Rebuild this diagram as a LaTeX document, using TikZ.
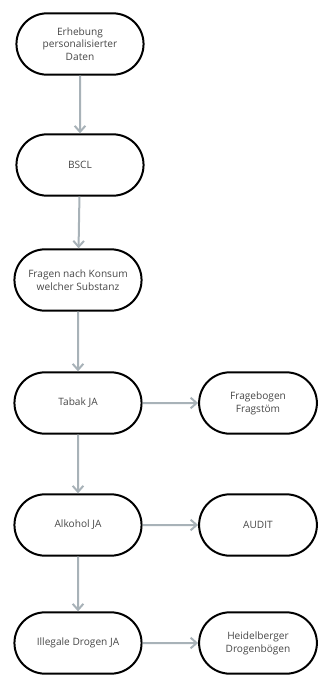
\documentclass[tikz,border=0pt]{standalone}
\usepackage{fontspec}
\setmainfont{Open Sans}
\usetikzlibrary{shapes.misc,arrows.meta}
\definecolor{pfeilgrau}{RGB}{168,178,184}
\definecolor{textgrau}{RGB}{70,70,70}

\begin{document}
\begin{tikzpicture}[x=0.75pt,y=-0.75pt]
\useasboundingbox (0,0) rectangle (321,675);

\tikzset{
    kapsel/.style={
        draw=black, line width=1.5pt, rounded rectangle,
        minimum width=102pt, minimum height=46pt,
        align=center, text=textgrau, font=\fontsize{7.6}{9.6}\selectfont
    },
    kapselR/.style={kapsel, minimum width=95pt},
    pfeil/.style={
        draw=pfeilgrau, line width=1.5pt,
        -{Straight Barb[length=4.5pt,width=8pt,line width=1.5pt]}
    }
}

\node[kapsel] (erhebung) at (80,44) {Erhebung\\personalisierter\\Daten};
\node[kapsel] (bscl) at (80,165) {BSCL};
\node[kapsel] (fragen) at (78,280) {Fragen nach Konsum\\welcher Substanz};
\node[kapsel] (tabak) at (78,403) {Tabak JA};
\node[kapsel] (alkohol) at (78,525) {Alkohol JA};
\node[kapsel] (drogen) at (78,643) {Illegale Drogen JA};

\node[kapselR] (fragstoem) at (258,403) {Fragebogen\\Fragstöm};
\node[kapselR] (audit) at (258,525) {AUDIT};
\node[kapselR] (heidelberg) at (258,643) {Heidelberger\\Drogenbögen};

\draw[pfeil] (erhebung) -- (bscl);
\draw[pfeil] (bscl) -- (fragen);
\draw[pfeil] (fragen) -- (tabak);
\draw[pfeil] (tabak) -- (alkohol);
\draw[pfeil] (alkohol) -- (drogen);

\draw[pfeil] (tabak) -- (fragstoem);
\draw[pfeil] (alkohol) -- (audit);
\draw[pfeil] (drogen) -- (heidelberg);

\end{tikzpicture}
\end{document}
